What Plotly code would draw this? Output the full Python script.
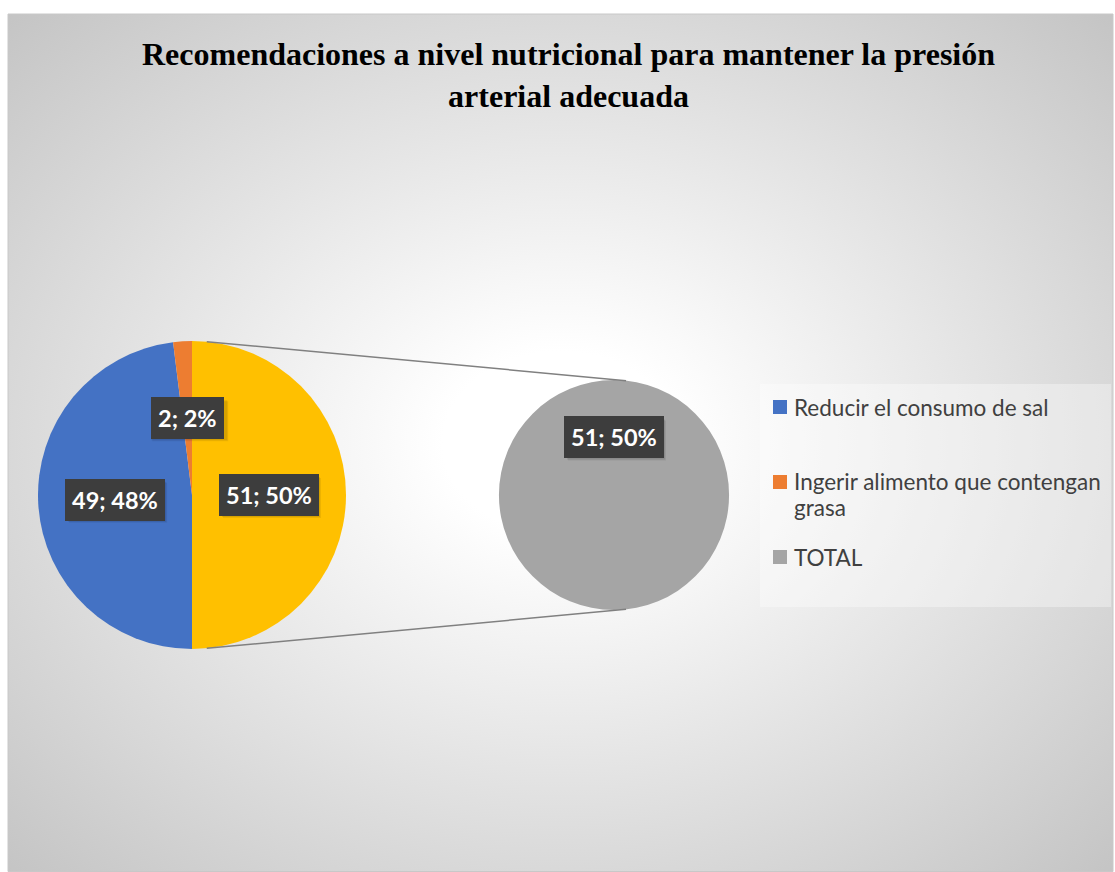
import math
import base64
import plotly.graph_objects as go

# ---------------- data ----------------
title_text = "Recomendaciones a nivel nutricional para mantener la presión<br>arterial adecuada"
main_labels = ["Otro", "Reducir el consumo de sal", "Ingerir alimento que contengan grasa"]
main_values = [51, 49, 2]
main_colors = ["#FFC000", "#4472C4", "#ED7D31"]
sec_labels = ["TOTAL"]
sec_values = [51]
sec_colors = ["#A5A5A5"]
legend_labels = ["Reducir el consumo de sal", "Ingerir alimento que contengan<br>grasa", "TOTAL"]
legend_colors = ["#4472C4", "#ED7D31", "#A5A5A5"]

# ---------------- geometry (pixels) ----------------
W, H = 1115, 872
C1 = (192, 495); R1 = 154
C2 = (614, 495); R2 = 115


def fx(x):
    return x / W


def fy(y):
    return 1 - y / H


def dom(c, r):
    return dict(x=[fx(c[0] - r), fx(c[0] + r)], y=[fy(c[1] + r), fy(c[1] - r)])


fig = go.Figure()
fig.add_trace(go.Pie(labels=main_labels, values=main_values, sort=False, direction="clockwise",
                     rotation=0, marker=dict(colors=main_colors, line=dict(width=0)),
                     textinfo="none", hoverinfo="label+value+percent", showlegend=False,
                     domain=dom(C1, R1)))
fig.add_trace(go.Pie(labels=sec_labels, values=sec_values, sort=False, direction="clockwise",
                     rotation=180, marker=dict(colors=sec_colors, line=dict(width=0)),
                     textinfo="none", hoverinfo="label+value", showlegend=False,
                     domain=dom(C2, R2)))

total = sum(main_values)
annotations = []
shapes = []


def label_box(cx, cy, text):
    # soft drop shadow (approximate box size from text length)
    hw = 5.5 * len(text) + 10.5
    hh = 20
    for off, alpha in ((3, 0.07), (2, 0.09)):
        shapes.append(dict(type="rect", xref="paper", yref="paper", layer="above",
                           x0=fx(cx - hw + off), x1=fx(cx + hw + off), y0=fy(cy + hh + off), y1=fy(cy - hh + off),
                           fillcolor=f"rgba(0,0,0,{alpha})", line=dict(width=0)))
    annotations.append(dict(x=fx(cx), y=fy(cy), xref="paper", yref="paper", text="<b>" + text + "</b>",
                            showarrow=False, xanchor="center", yanchor="middle", borderpad=7, borderwidth=0,
                            font=dict(family="Lato", size=23.5, color="white"), bgcolor="#3d3d3d"))


# labels for main pie
start = 0.0
for v in main_values:
    span = 360.0 * v / total
    mid = math.radians(start + span / 2)
    cx = C1[0] + 0.5 * R1 * math.sin(mid)
    cy = C1[1] - 0.5 * R1 * math.cos(mid)
    label_box(cx, cy, f"{v}; {round(100 * v / total)}%")
    start += span

# label for secondary pie
start = 180.0
stot = sum(sec_values)
for v in sec_values:
    span = 360.0 * v / stot
    mid = math.radians(start + span / 2)
    cx = C2[0] + 0.5 * R2 * math.sin(mid)
    cy = C2[1] - 0.5 * R2 * math.cos(mid)
    label_box(cx, cy, f"{v}; {round(100 * v / total)}%")
    start += span

# connector lines
a1 = math.radians(5.5); a2 = math.radians(6)
for s in (1, -1):
    x0 = C1[0] + R1 * math.sin(a1); y0 = C1[1] - s * R1 * math.cos(a1)
    x1 = C2[0] + R2 * math.sin(a2); y1 = C2[1] - s * R2 * math.cos(a2)
    shapes.append(dict(type="line", xref="paper", yref="paper", x0=fx(x0), y0=fy(y0), x1=fx(x1), y1=fy(y1),
                       line=dict(color="#808080", width=1.5)))

# title
annotations.append(dict(x=fx(568), y=fy(75), xref="paper", yref="paper", text="<b>" + title_text + "</b>",
                        showarrow=False, align="center", xanchor="center", yanchor="middle",
                        font=dict(family="Liberation Serif", size=32, color="black")))

# legend (manual)
shapes.append(dict(type="rect", xref="paper", yref="paper", x0=fx(760), x1=fx(1111), y0=fy(384), y1=fy(607),
                   fillcolor="rgba(255,255,255,0.35)", line=dict(width=0), layer="below"))
leg_y = [407, 482, 557]
line_gap = 25
for lab, col, y in zip(legend_labels, legend_colors, leg_y):
    shapes.append(dict(type="rect", xref="paper", yref="paper", x0=fx(773), x1=fx(787), y0=fy(y - 7), y1=fy(y + 7),
                       fillcolor=col, line=dict(width=0)))
    for i, part in enumerate(lab.split("<br>")):
        annotations.append(dict(x=fx(792), y=fy(y + i * line_gap), xref="paper", yref="paper", text=part,
                                showarrow=False, xanchor="left", yanchor="middle", align="left",
                                font=dict(family="Lato", size=22.5, color="#404040")))

# background gradient + border
bw, bh = 1113 - 8, 872 - 14
svg = (f'<svg xmlns="http://www.w3.org/2000/svg" width="{bw}" height="{bh}" viewBox="0 0 {bw} {bh}" '
       f'preserveAspectRatio="none"><defs><radialGradient id="g" cx="0.5" cy="0.5" r="0.71">'
       f'<stop offset="0" stop-color="#ffffff"/><stop offset="0.15" stop-color="#ffffff"/>'
       f'<stop offset="1" stop-color="#c4c4c4"/></radialGradient></defs>'
       f'<rect x="0" y="0" width="{bw}" height="{bh}" fill="url(#g)"/></svg>')
src = "data:image/svg+xml;base64," + base64.b64encode(svg.encode()).decode()
images = [dict(source=src, xref="paper", yref="paper", x=fx(8), y=fy(14), sizex=bw / W, sizey=bh / H,
               xanchor="left", yanchor="top", sizing="stretch", layer="below")]
shapes.append(dict(type="rect", xref="paper", yref="paper", x0=fx(8), x1=fx(1113), y0=fy(871.5), y1=fy(14),
                   line=dict(color="#c8c8c8", width=1), fillcolor="rgba(0,0,0,0)", layer="below"))

fig.update_layout(width=W, height=H, margin=dict(l=0, r=0, t=0, b=0), paper_bgcolor="white",
                  plot_bgcolor="white", showlegend=False, annotations=annotations, shapes=shapes,
                  images=images)
fig.write_html("out.html")
